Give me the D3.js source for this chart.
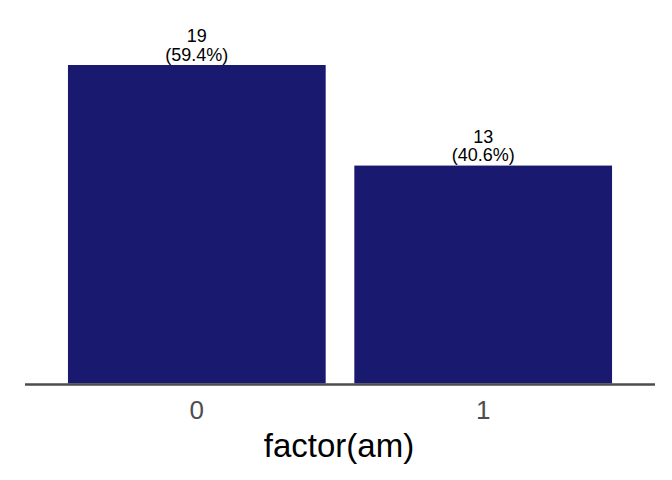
<!DOCTYPE html>
<html><head><meta charset="utf-8">
<script src="https://cdn.jsdelivr.net/npm/d3@7"></script>
<style>body{margin:0;background:#fff}svg{display:block}</style>
</head><body>
<script>
const categories = ["0", "1"];
const counts = [19, 13];
const percents = ["59.4%", "40.6%"];
const xTitle = "factor(am)";

(function(){
const W = 672, H = 480;
const svg = d3.select("body").append("svg").attr("width", W).attr("height", H);
const pLeft = 25, pRight = 655, base = 383.5, pTop = 65;

const x = d3.scaleBand().domain(categories).range([pLeft, pRight])
  .paddingInner(0.1).paddingOuter(0.15);
const y = d3.scaleLinear().domain([0, 19]).range([base, pTop]);
const cx = d => x(d) + x.bandwidth() / 2;

const font = "'Liberation Sans', Arial, Helvetica, sans-serif";

svg.selectAll("rect.bar").data(categories).enter().append("rect")
  .attr("class", "bar")
  .attr("x", d => x(d)).attr("width", x.bandwidth())
  .attr("y", (d,i) => y(counts[i])).attr("height", (d,i) => base - y(counts[i]))
  .attr("fill", "#191970");

svg.append("line").attr("x1", pLeft).attr("x2", pRight).attr("y1", 384.5).attr("y2", 384.5)
  .attr("stroke", "#4d4d4d").attr("stroke-width", 2.5);

categories.forEach((d,i) => {
  const t = svg.append("text").attr("text-anchor", "middle")
    .attr("font-family", font).attr("font-size", 18).attr("fill", "#000");
  t.append("tspan").attr("x", cx(d)).attr("y", y(counts[i]) - 23).text(counts[i]);
  t.append("tspan").attr("x", cx(d)).attr("y", y(counts[i]) - 4.5).text("(" + percents[i] + ")");
  svg.append("text").attr("x", cx(d)).attr("y", 419).attr("text-anchor", "middle")
    .attr("font-family", font).attr("font-size", 26).attr("fill", "#4d4d4d").text(d);
});

svg.append("text").attr("x", (pLeft + pRight)/2 - 1).attr("y", 457).attr("text-anchor", "middle")
  .attr("font-family", font).attr("font-size", 33).attr("fill", "#000").text(xTitle);
})();
</script>
</body></html>
